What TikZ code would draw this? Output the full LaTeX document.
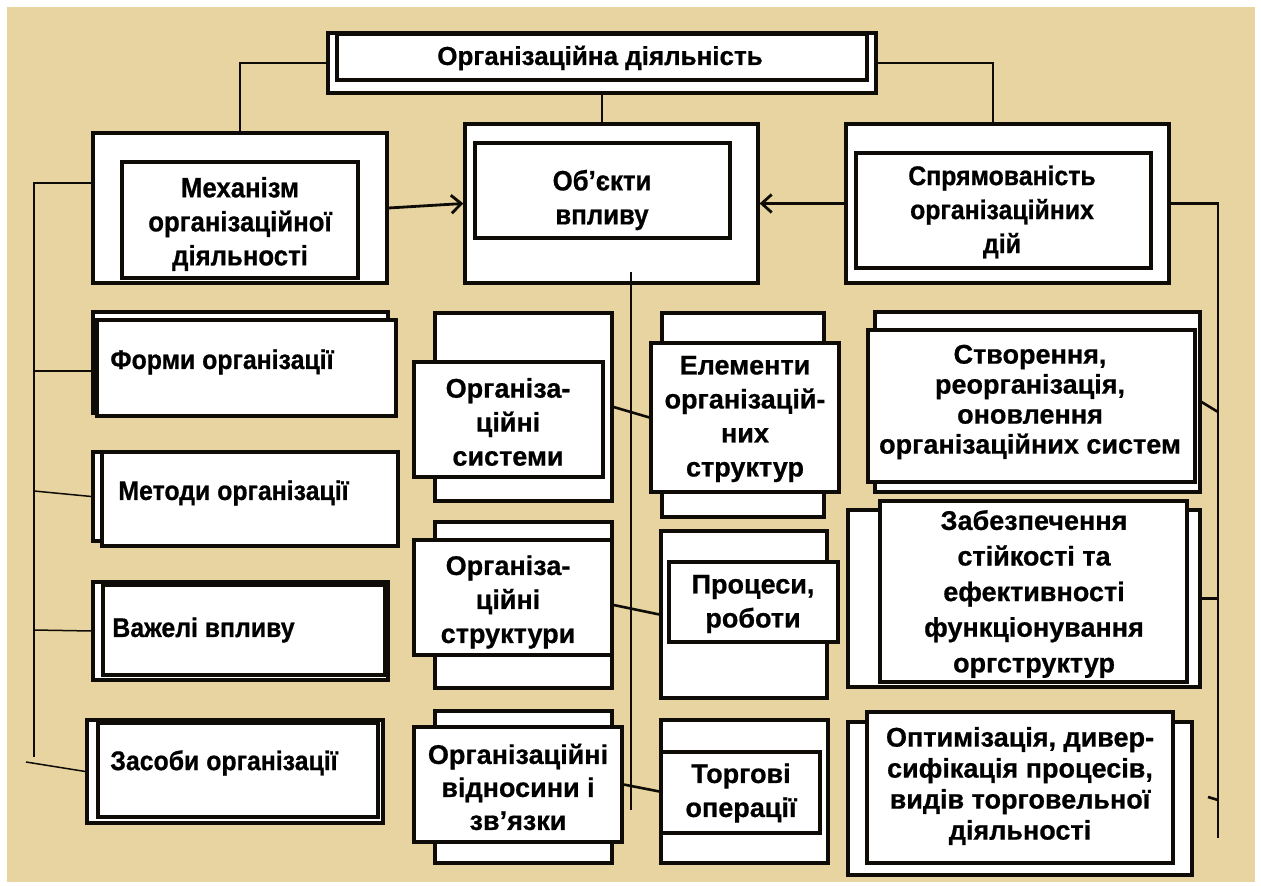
\documentclass[tikz,border=0pt]{standalone}
\usepackage{fontspec}
\setmainfont{Liberation Sans}[BoldFeatures={FakeBold=0.7}]
\newfontfamily\narrowsans{Liberation Sans}[BoldFeatures={FakeBold=0.7}, FakeStretch=0.92]
\usetikzlibrary{fit,arrows.meta}
\definecolor{paper}{RGB}{232,212,160}
\definecolor{ink}{RGB}{15,12,8}
\newcommand\bx[5]{\node[box, fit={(#2,#3) (#4,#5)}] (#1) {};}
\begin{document}
\begin{tikzpicture}[x=0.5pt,y=-0.5pt,
  box/.style={draw=ink, fill=white, line width=1.6pt, inner sep=0pt},
  txt/.style={font=\bfseries\fontsize{13.5}{#1}\selectfont, align=center, inner sep=0pt, text=black},
  txt/.default=17,
  ltxt/.style={font=\narrowsans\bfseries\fontsize{13.5}{16}\selectfont, anchor=west, inner sep=0pt, text=black},
  link/.style={draw=ink, line width=1.3pt},
  thinlink/.style={draw=ink, line width=0.75pt},
  arr/.style={draw=ink, line width=1.4pt, -{Straight Barb[length=5pt,width=9pt]}}
]
\useasboundingbox (0,0) rectangle (1261,886);
\fill[white] (0,0) rectangle (1261,886);
\fill[paper] (7,7) rectangle (1255,882);

% coordinates for connector bends and free ends
\coordinate (xL) at (240,0);
\coordinate (xR) at (993,0);
\coordinate (lTop) at (34,183);
\coordinate (lBot) at (34,757);
\coordinate (l1) at (34,371);
\coordinate (l2) at (34,491);
\coordinate (l3) at (34,630);
\coordinate (l4) at (26,762);
\coordinate (rTop) at (1218,202);
\coordinate (rBot) at (1218,838);
\coordinate (r1) at (1218,412);
\coordinate (r3) at (1208,797);
\coordinate (r3e) at (1218,800);
\coordinate (cTop) at (631,272);
\coordinate (cBot) at (631,810);

% top box
\bx{topB}{328}{33}{876}{93}
\bx{topF}{337}{34}{867}{80}
\node[txt=16, font=\bfseries\fontsize{13}{16}\selectfont] (topT) at (600,58) {Організаційна діяльність};

% second row
\bx{mechB}{93}{133}{387}{283}
\bx{mechF}{122}{162}{358}{278}
\node[txt, font=\narrowsans\bfseries\fontsize{14}{17}\selectfont] (mechT) at (240,224) {Механізм\\організаційної\\діяльності};

\bx{objB}{465}{124}{758}{283}
\bx{objF}{475}{143}{730}{238}
\node[txt, font=\narrowsans\bfseries\fontsize{14}{17}\selectfont] (objT) at (602,200) {Об’єкти\\впливу};

\bx{sprB}{846}{124}{1169}{283}
\bx{sprF}{856}{153}{1151}{268}
\node[txt, font=\narrowsans\bfseries\fontsize{13.5}{17}\selectfont] (sprT) at (1002,212) {Спрямованість\\організаційних\\дій};

% left column
\bx{formB}{93}{312}{388}{413}
\bx{formF}{97}{320}{396}{416}
\node[ltxt] (formT) at (110,362) {Форми організації};

\bx{methB}{93}{452}{390}{541}
\bx{methF}{102}{452}{398}{546}
\node[ltxt] (methT) at (118,493) {Методи організації};

\bx{levB}{93}{582}{388}{680}
\bx{levF}{103}{585}{385}{675}
\node[ltxt] (levT) at (112,630) {Важелі впливу};

\bx{meanB}{87}{720}{383}{823}
\bx{meanF}{98}{723}{378}{817}
\node[ltxt] (meanT) at (110,763) {Засоби організації};

% centre columns
\bx{sysB}{435}{313}{612}{501}
\bx{sysF}{414}{362}{603}{477}
\node[txt] (sysT) at (508,422) {Організа-\\ційні\\системи};

\bx{elB}{662}{313}{824}{517}
\bx{elF}{651}{343}{839}{492}
\node[txt] (elT) at (745,419) {Елементи\\організацій-\\них\\структур};

\bx{strB}{435}{522}{612}{688}
\bx{strF}{414}{540}{612}{655}
\node[txt] (strT) at (508,602) {Організа-\\ційні\\структури};

\bx{procB}{661}{531}{827}{698}
\bx{procF}{669}{562}{838}{642}
\node[txt] (procT) at (753,604) {Процеси,\\роботи};

\bx{relB}{435}{711}{612}{863}
\bx{relF}{414}{727}{622}{842}
\node[txt=16.5] (relT) at (518,787) {Організаційні\\відносини і\\зв’язки};

\bx{tradeB}{661}{720}{828}{863}
\bx{tradeF}{661}{752}{820}{833}
\node[txt] (tradeT) at (741,793) {Торгові\\операції};

% right column
\bx{creB}{875}{312}{1200}{492}
\bx{creF}{868}{330}{1195}{482}
\node[txt=15] (creT) at (1030,402) {Створення,\\реорганізація,\\оновлення\\організаційних систем};

\bx{ensB}{848}{510}{1200}{687}
\bx{ensF}{880}{501}{1187}{682}
\node[txt=17.8] (ensT) at (1034,594) {Забезпечення\\стійкості та\\ефективності\\функціонування\\оргструктур};

\bx{optB}{848}{722}{1192}{875}
\bx{optF}{867}{712}{1173}{863}
\node[txt=15.5] (optT) at (1020,786) {Оптимізація, дивер-\\сифікація процесів,\\видів торговельної\\діяльності};

% connectors from the top box
\draw[link] (topB.west) -| (mechB.north -| xL);
\draw[link] (topB.south) -- (topB.south |- objB.north);
\draw[link] (topB.east) -| (sprB.north -| xR);

% arrows into "objects"
\draw[arr] (mechB.east) -- (objB.west);
\draw[arr] (sprB.west) -- (objB.east);

% left spine
\draw[thinlink] (mechB.west |- lTop) -- (lTop) -- (lBot);
\draw[thinlink] (l1) -- (l1 -| formB.west);
\draw[thinlink] (l2) -- (methB.west);
\draw[thinlink] (l3) -- (levB.west);
\draw[thinlink] (l4) -- (meanB.west);

% centre spine
\draw[link] (cTop) -- (cBot);
\draw[link] (sysB.east) -- (elF.west);
\draw[link] (strB.east) -- (procB.west);
\draw[link] (relF.east) -- (tradeB.west);

% right spine
\draw[link] (sprB.east) -| (rBot);
\draw[link] (creB.east) -- (r1);
\draw[link] (ensB.east) -- (ensB.east -| rTop);
\draw[link] (r3) -- (r3e);
\end{tikzpicture}
\end{document}
